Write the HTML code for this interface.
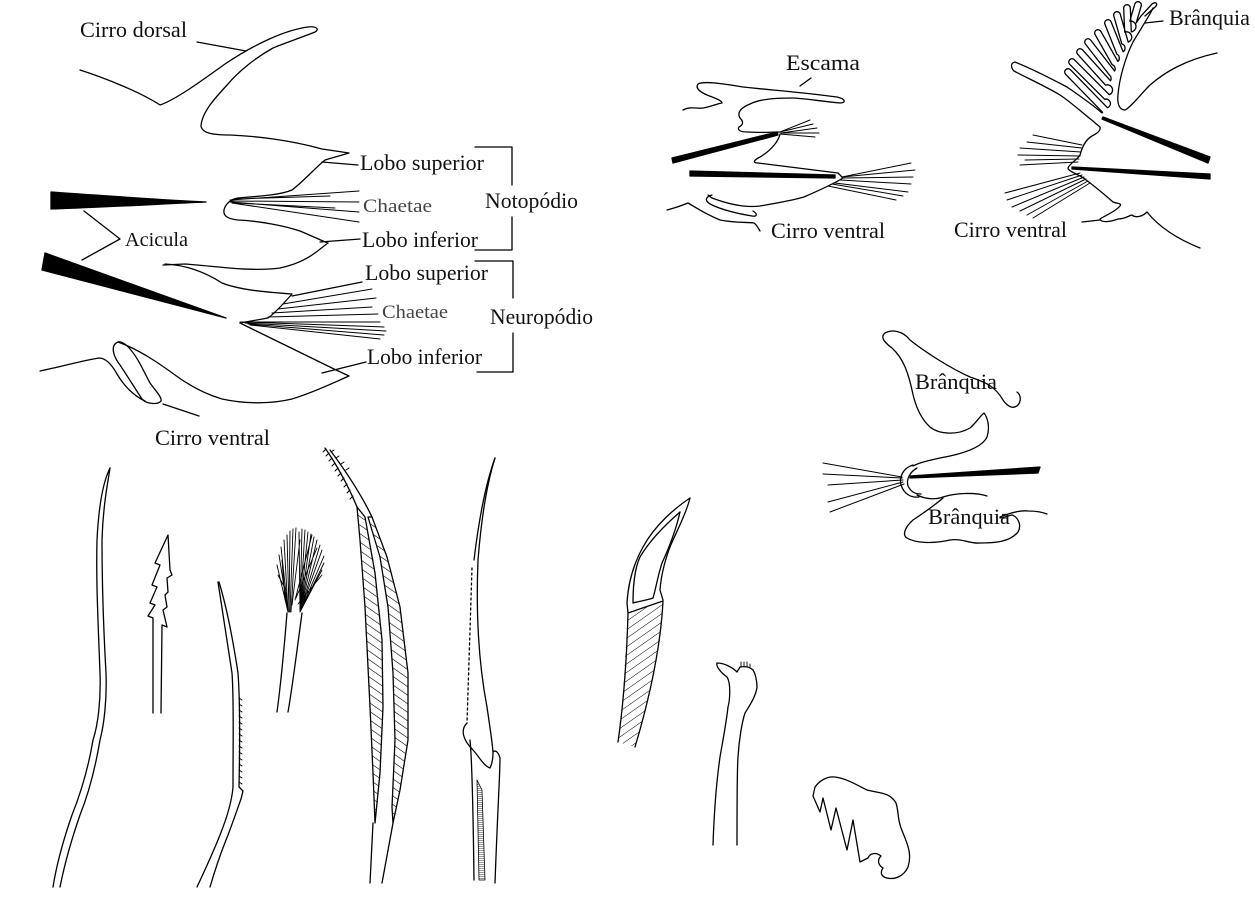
<!DOCTYPE html>
<html><head><meta charset="utf-8"><style>
html,body{margin:0;padding:0;background:#fff;}
svg{display:block;}
text{font-family:"Liberation Serif",serif;fill:#111;}
</style></head><body>
<svg width="1255" height="906" viewBox="0 0 1255 906" xmlns="http://www.w3.org/2000/svg">
<defs>
<pattern id="h1" width="7" height="7" patternUnits="userSpaceOnUse" patternTransform="rotate(-55)"><line x1="0" y1="0" x2="0" y2="7" stroke="#000" stroke-width="1.2"/></pattern>
<pattern id="h2" width="7" height="7" patternUnits="userSpaceOnUse" patternTransform="rotate(55)"><line x1="0" y1="0" x2="0" y2="7" stroke="#000" stroke-width="1"/></pattern>
<pattern id="h3" width="2" height="2" patternUnits="userSpaceOnUse"><line x1="0" y1="0" x2="2" y2="0" stroke="#000" stroke-width="0.8"/></pattern>
</defs>
<g fill="none" stroke="#000" stroke-width="1.3" stroke-linecap="round" stroke-linejoin="round">

<!-- ===== TOP-LEFT PARAPODIUM ===== -->
<path d="M80,70 C105,78 140,92 160,105 C175,100 200,82 225,64 C255,44 285,30 308,27 C316,26 320,29 315,32 C300,38 285,43 273,48 C255,58 238,72 228,84 C215,98 202,112 201,126 C202,133 212,135 230,135 C255,136 290,140 322,149 L349,153 L325,160 C315,168 305,180 292,190 C280,195 262,196 238,198 C230,199 225,205 224,210 C223,216 228,219 238,220 C260,221 285,226 300,231 C312,236 320,240 328,243"/>
<path d="M328,243 C318,250 308,262 280,268 C250,272 215,266 185,264 L163,265"/>
<path d="M165,264 C185,265 205,272 222,283 C240,290 265,292 292,294 C285,302 275,313 268,318 L240,323"/>
<path d="M240,323 L334,369 L349,376 C335,382 315,392 292,399 C275,403 250,405 222,399 C205,394 190,386 175,375 C160,364 140,350 118,342"/>
<path d="M118,342 C110,345 113,356 120,365 C128,377 136,390 142,399 C146,404 158,405 161,401 C162,397 155,390 150,383 C143,370 138,358 130,349 C126,344 121,341 118,342 Z"/>
<path d="M40,371 C60,367 85,360 99,358 C106,358 112,365 117,374 C124,386 134,396 145,401"/>
<path d="M163,404 L199,416"/>
<path d="M197,42 L246,51"/>
<path d="M230,200 L359,191 M230,201 L359,202 M230,202 L359,212 M232,203 L359,222 M235,199 L330,196 M236,203 L335,208" stroke-width="1"/>
<path d="M322,162 L358,165"/>
<path d="M320,242 L360,239"/>
<path d="M283,304 L372,289 M278,309 L376,298 M272,313 L372,307 M268,317 L378,314 M240,322 L380,322 M243,322 L384,327 M245,323 L386,331 M248,324 L384,335 M250,325 L380,339" stroke-width="1"/>
<path d="M292,296 L362,282"/>
<path d="M322,373 L366,362"/>
<path d="M51,192 C110,196 160,200 206,202 C160,204 110,207 51,209 Z" fill="#000"/>
<path d="M45,253 L226,318 L42,270 Z" fill="#000"/>
<path d="M84,211 L120,239 L82,260"/>
<path d="M475,147 L512,147 L512,185 M512,217 L512,250 L475,250"/>
<path d="M475,261 L513,261 L513,298 M513,333 L513,372 L477,372"/>

<!-- ===== TOP-MIDDLE PARAPODIUM ===== -->
<path d="M683,110 C690,106 697,109 703,108 C710,107 716,104 722,103 C722,100 712,97 707,95 C700,92 695,88 698,84 C703,81 720,83 743,87 C770,90 800,92 837,97 C846,99 846,103 840,103 C820,101 800,98 793,98 C775,98 760,99 750,104 C740,108 737,113 740,118 C744,122 743,125 739,127 C737,130 740,132 748,132 C760,133 770,132 780,132"/>
<path d="M800,86 L811,78"/>
<path d="M780,132 L810,120 M780,132 L813,124 M781,133 L817,128 M781,133 L819,133 M780,134 L815,137" stroke-width="1"/>
<path d="M780,134 C779,140 772,150 760,157 C754,160 752,163 758,163 L838,173 L843,178 C835,183 820,190 804,197 C790,201 777,203 760,206 C745,208 728,204 712,198 L708,195"/>
<path d="M672,158 L777,132 L778,135 L673,163 Z" fill="#000"/>
<path d="M690,171 L835,175 L835,178 L690,176 Z" fill="#000"/>
<path d="M712,195 C705,197 704,201 712,205 C725,211 740,214 752,216 C757,217 758,214 753,211"/>
<path d="M667,210 C675,208 683,205 688,203 C695,207 705,214 720,220 C735,223 748,222 754,223 C757,225 758,228 760,231"/>
<path d="M842,177 L911,163 M842,177 L915,170 M842,178 L913,177 M840,180 L911,184 M835,183 L908,192 M828,186 L896,200 M832,184 L903,196" stroke-width="1"/>

<!-- ===== TOP-RIGHT PARAPODIUM ===== -->
<path d="M1102.6,112.3 L1065.6,74.3 A2.4,2.4 0 0 1 1070.4,69.7 L1107.4,107.7 A4.4,4.4 0 0 0 1104.7,99.3 L1069.7,64.3 A2.4,2.4 0 0 1 1074.3,59.7 L1109.3,94.7 A4.4,4.4 0 0 0 1105.6,85.2 L1077.6,54.2 A2.4,2.4 0 0 1 1082.5,49.8 L1110.5,80.8 A4.4,4.4 0 0 0 1109.4,75 L1085.4,44 A2.4,2.4 0 0 1 1090.6,40 L1114.6,71 A4.4,4.4 0 0 0 1112.1,64.6 L1095.1,34.6 A2.4,2.4 0 0 1 1100.9,31.4 L1117.9,61.4 A4.4,4.4 0 0 0 1116.9,54.2 L1104.9,24.2 A2.4,2.4 0 0 1 1111.1,21.8 L1123.1,51.8 A4.4,4.4 0 0 0 1121.8,43.9 L1113.8,15.9 A2.4,2.4 0 0 1 1120.2,14.1 L1128.2,42.1 A4.4,4.4 0 0 0 1124.7,32.1 L1123.7,8.1 A2.4,2.4 0 0 1 1130.3,7.9 L1131.3,31.9 A4.4,4.4 0 0 0 1129.8,21.1 L1134.8,4.1 A2.4,2.4 0 0 1 1141.2,5.9 L1136.2,22.9 L1141,16 L1152,4 C1156,1 1159,4 1154,8 L1145,16"/>
<path d="M1153,8 C1150,15 1140,30 1133,42 C1125,58 1119,80 1118,95 C1117,105 1120,110 1125,110 C1130,108 1140,95 1150,85 C1165,72 1185,60 1217,53"/>
<path d="M1145,23 L1163,21"/>
<path d="M1102,113 C1093,105 1083,98 1067,87 C1050,78 1030,68 1015,62 C1010,63 1011,68 1014,71 C1025,77 1045,86 1060,95 C1072,103 1085,115 1093,121 C1096,124 1099,126 1100,127 C1101,130 1098,133 1092,136 C1085,140 1082,148 1080,155 C1077,160 1070,163 1068,168 C1068,171 1075,173 1082,177 C1092,184 1105,195 1113,202 C1118,204 1122,203 1120,206 C1115,212 1104,216 1100,219 C1101,223 1110,222 1118,219 C1125,219 1128,216 1132,215 C1135,218 1142,217 1147,212 C1155,222 1170,236 1200,248"/>
<path d="M1082,222 L1100,220"/>
<path d="M1103,117 L1210,157 L1208,163 L1102,119 Z" fill="#000"/>
<path d="M1072,167 L1210,174 L1210,179 L1072,169 Z" fill="#000"/>
<path d="M1082,145 L1033,135 M1082,148 L1027,142 M1081,152 L1020,148 M1080,156 L1018,155 M1079,159 L1025,160 M1078,162 L1020,165" stroke-width="1"/>
<path d="M1080,173 L1005,193 M1082,175 L1007,200 M1084,177 L1012,207 M1086,179 L1020,211 M1088,181 L1027,215 M1090,183 L1033,218" stroke-width="1"/>

<!-- ===== MID-RIGHT (gills) ===== -->
<path d="M885,333 C892,329 903,331 910,340 C925,352 950,368 970,377 C985,382 995,386 1003,400 C1007,406 1013,410 1018,405 C1022,400 1020,394 1017,392"/>
<path d="M885,333 C880,337 884,342 892,348 C903,358 908,372 912,390 C915,405 920,418 930,427 C940,435 958,435 970,428 C976,423 980,416 984,413 C988,418 990,428 987,437 C983,446 968,452 950,456 C935,459 920,462 913,466"/>
<path d="M913,465 C903,468 899,477 901,485 C904,494 911,498 919,497"/>
<path d="M917,468 C910,472 906,479 908,486 C911,492 915,494 921,494"/>
<path d="M910,476 L1040,467 L1038,473 L910,478 Z" fill="#000"/>
<path d="M902,477 L823,463 M902,478 L823,474 M903,480 L828,485 M903,482 L828,502 M904,484 L830,512" stroke-width="1"/>
<path d="M917,495 C925,499 935,500 943,497 C955,493 975,492 987,496"/>
<path d="M943,498 C935,505 925,512 913,520 C905,527 902,535 907,538 C915,543 932,544 950,540 C962,538 970,544 980,543 C995,543 1010,542 1018,532 C1022,525 1018,517 1012,515 C1007,516 1003,518 1000,518"/>
<path d="M1000,517 C1010,513 1020,510 1028,511 C1036,511 1042,512 1047,514"/>

<!-- ===== BOTTOM CHAETAE ===== -->
<path d="M110,468 C104,480 99,500 97,540 C96,580 98,620 100,673 C101,700 98,725 93,740 C88,770 80,795 72,815 C64,838 57,862 53,887"/>
<path d="M110,468 C108,482 103,505 102,540 C102,580 103,620 106,673 C107,700 104,725 100,740 C95,770 88,795 80,815 C72,838 65,862 60,887"/>
<path d="M153,713 L153,618 L148,616 L155,605 L150,603 L157,587 L152,585 L160,565 L155,563 L168,535 L170,570 L172,575 L167,578 L168,592 L165,595 L167,607 L163,610 L167,627 L162,625 L161,713"/>
<path d="M218,582 C222,607 227,640 232,673 C234,700 233,740 233,787 C232,800 228,815 220,835 C212,855 205,870 197,887"/>
<path d="M219,582 C226,605 233,640 238,673 C240,700 240,740 239,787 L243,791 L241,799 C237,810 232,825 226,840 C220,855 215,870 210,887"/>
<path d="M239,698 l3,2 M239,704 l3,2 M239,710 l3,2 M239,716 l3,2 M239,722 l3,2 M239,728 l3,2 M239,734 l3,2 M239,740 l3,2 M239,746 l3,2 M239,752 l3,2 M239,758 l3,2 M239,764 l3,2 M239,770 l3,2 M239,776 l3,2 M239,782 l3,2" stroke-width="1"/>
<path d="M287,613 C284,650 280,690 277,712 M302,613 C297,650 292,690 288,712"/>
<path d="M288,612 L277,565 M288,612 L279,555 M288,612 L281,547 M288,612 L284,540 M289,612 L287,535 M289,612 L290,531 M290,612 L293,529 M291,612 L296,528 M300,612 L299,532 M300,612 L302,529 M300,612 L305,530 M300,612 L308,532 M300,612 L311,534 M300,612 L314,537 M300,612 L317,540 M300,612 L320,545 M300,612 L322,550 M300,612 L324,556 M300,612 L324,563 M300,612 L322,570 M295,600 L312,535 M296,598 L317,548 M285,600 L282,560 M292,605 L300,540 M298,604 L322,575 M286,590 L278,575" stroke-width="0.9"/>
<path d="M357,507 L360,540 L365,607 L370,707 L373,773 L375,823 L380,773 L383,707 L382,640 L375,573 L365,517 Z" fill="url(#h1)"/>
<path d="M368,517 L380,557 L388,607 L393,673 L395,740 L392,807 L393,823 L400,790 L408,740 L408,673 L400,607 L387,557 L372,517 Z" fill="url(#h1)"/>
<path d="M325,448 C335,462 348,485 357,507 M330,450 C345,470 360,492 372,517 M373,823 L370,883 M393,823 L382,883"/>
<path d="M326,449 l-3,3 M329,453 l-3,3 M332,458 l-3,3 M335,463 l-3,3 M338,468 l-3,3 M341,473 l-3,3 M344,478 l-3,3 M347,484 l-3,3 M350,490 l-3,3 M353,496 l-3,3 M331,452 l3,-2 M336,458 l3,-2 M341,464 l3,-2 M346,470 l3,-2" stroke-width="1"/>
<path d="M495,458 C488,480 482,510 478,560 C476,610 478,660 487,707 C490,728 492,740 493,752 C495,750 498,751 500,758 C500,775 498,800 495,883"/>
<path d="M495,458 C487,480 480,510 474,560"/>
<path d="M472,568 L467,723" stroke-dasharray="2,3"/>
<path d="M467,723 C460,730 463,740 473,750 C480,758 484,766 490,768 C492,764 493,758 493,752"/>
<path d="M470,740 C472,760 473,800 474,880"/>
<path d="M477,780 L479,880 L485,880 L482,790 Z" fill="url(#h3)" stroke-width="0.8"/>
<path d="M690,498 C675,508 655,525 643,547 C633,565 628,585 627,603 L628,613"/>
<path d="M680,512 C665,525 650,540 640,557 C634,570 633,590 633,603"/>
<path d="M690,498 C687,510 680,525 673,540 C666,555 661,575 660,590 L663,600"/>
<path d="M680,512 C676,530 668,550 662,563 C658,575 656,588 653,598"/>
<path d="M633,603 C640,601 648,600 653,598"/>
<path d="M628,613 L663,601 L660,640 L647,707 L635,747 L618,742 L622,707 L625,657 Z" fill="url(#h2)" stroke="none"/>
<path d="M628,613 L663,601 C661,640 652,690 635,747 M628,613 C627,650 624,700 618,742"/>
<path d="M737,845 C737,800 737,770 738,757 C739,740 742,722 745,713 C750,705 756,696 757,687 C757,680 755,673 753,670 C750,667 745,666 740,667 L737,672 C733,668 725,663 717,663 C716,666 720,672 727,677 C731,683 730,700 728,707 C726,725 722,745 720,757 C716,785 714,815 713,845"/>
<path d="M741,667 l0,-5 M744,667 l0,-5 M747,667 l0,-5 M750,668 l0,-4" stroke-width="0.9"/>
<path d="M815,787 C820,780 828,776 835,777 C845,778 857,785 867,790 C878,793 890,792 896,803 C899,812 897,820 903,833 C908,845 912,855 908,867 C904,876 895,880 887,878 C881,877 880,872 883,868 C878,865 877,860 881,856 C876,852 870,853 868,858 L860,862 L853,820 L847,850 L836,808 L831,830 L823,798 L820,812 L813,796 Z"/>
</g>

<g font-size="22">
<text x="80" y="37" textLength="107" lengthAdjust="spacingAndGlyphs">Cirro dorsal</text>
<text x="360" y="170" textLength="124" lengthAdjust="spacingAndGlyphs">Lobo superior</text>
<text x="485" y="208" textLength="93" lengthAdjust="spacingAndGlyphs">Notopódio</text>
<text x="125" y="246" textLength="63" lengthAdjust="spacingAndGlyphs" font-size="20">Acicula</text>
<text x="362" y="247" textLength="116" lengthAdjust="spacingAndGlyphs">Lobo inferior</text>
<text x="365" y="280" textLength="123" lengthAdjust="spacingAndGlyphs">Lobo superior</text>
<text x="490" y="324" textLength="103" lengthAdjust="spacingAndGlyphs">Neuropódio</text>
<text x="367" y="364" textLength="115" lengthAdjust="spacingAndGlyphs">Lobo inferior</text>
<text x="155" y="445" textLength="115" lengthAdjust="spacingAndGlyphs">Cirro ventral</text>
<text x="786" y="70" textLength="74" lengthAdjust="spacingAndGlyphs">Escama</text>
<text x="771" y="238" textLength="114" lengthAdjust="spacingAndGlyphs">Cirro ventral</text>
<text x="1169" y="25" textLength="81" lengthAdjust="spacingAndGlyphs">Brânquia</text>
<text x="954" y="237" textLength="113" lengthAdjust="spacingAndGlyphs">Cirro ventral</text>
<text x="915" y="389" textLength="82" lengthAdjust="spacingAndGlyphs">Brânquia</text>
<text x="928" y="524" textLength="82" lengthAdjust="spacingAndGlyphs">Brânquia</text>
</g>
<g font-size="19">
<text x="363" y="212" textLength="69" lengthAdjust="spacingAndGlyphs" style="fill:#444">Chaetae</text>
<text x="382" y="318" textLength="66" lengthAdjust="spacingAndGlyphs" style="fill:#444">Chaetae</text>
</g>
</svg>
</body></html>
